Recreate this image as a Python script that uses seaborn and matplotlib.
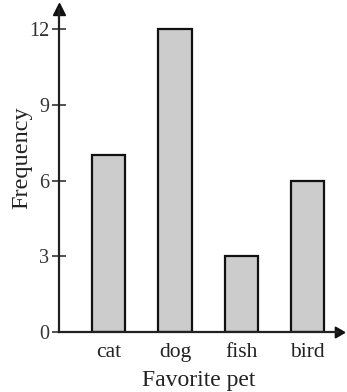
import matplotlib
matplotlib.use("Agg")
import matplotlib.pyplot as plt
import seaborn as sns
import pandas as pd

categories = ["cat", "dog", "fish", "bird"]
frequency = [7, 12, 3, 6]
yticks = [0, 3, 6, 9, 12]

sns.set_style("white")
plt.rcParams["font.family"] = ["Liberation Serif", "DejaVu Serif"]

df = pd.DataFrame({"pet": categories, "freq": frequency})

fig = plt.figure(figsize=(3.47, 3.92), dpi=100)
W, H = 347, 392
left, right, top, bottom = 59, 338, 9, 332
ax = fig.add_axes([left / W, 1 - bottom / H, (right - left) / W, (bottom - top) / H])

sns.barplot(data=df, x="pet", y="freq", ax=ax, color="#cccccc",
            edgecolor="#111111", linewidth=1.6, width=0.5, saturation=1)

ax.set_xlim(-0.75, 3.46)
ax.set_ylim(0, 12.8)
ax.set_yticks(yticks)
ax.set_yticklabels([str(v) for v in yticks], fontsize=14.5, color="#333333")
ax.tick_params(axis="x", length=0, labelsize=15.5, colors="#222222", pad=8)
ax.tick_params(axis="y", direction="inout", length=10, width=1.2, color="#333333",
               left=True, pad=2)
for s in ["top", "right"]:
    ax.spines[s].set_visible(False)
for s in ["left", "bottom"]:
    ax.spines[s].set_linewidth(1.6)
    ax.spines[s].set_color("#222222")

ax.plot(1, 0, marker=(3, 0, -90), color="#111111", markersize=9,
        transform=ax.transAxes, clip_on=False)
ax.plot(0, 1, marker="^", color="#111111", markersize=9,
        transform=ax.transAxes, clip_on=False)

ax.set_xlabel("Favorite pet", fontsize=17, color="#222222", labelpad=6)
ax.set_ylabel("Frequency", fontsize=17.5, color="#222222")
ax.yaxis.set_label_coords(-0.097, 0.539)

fig.savefig("out.png", dpi=100)
